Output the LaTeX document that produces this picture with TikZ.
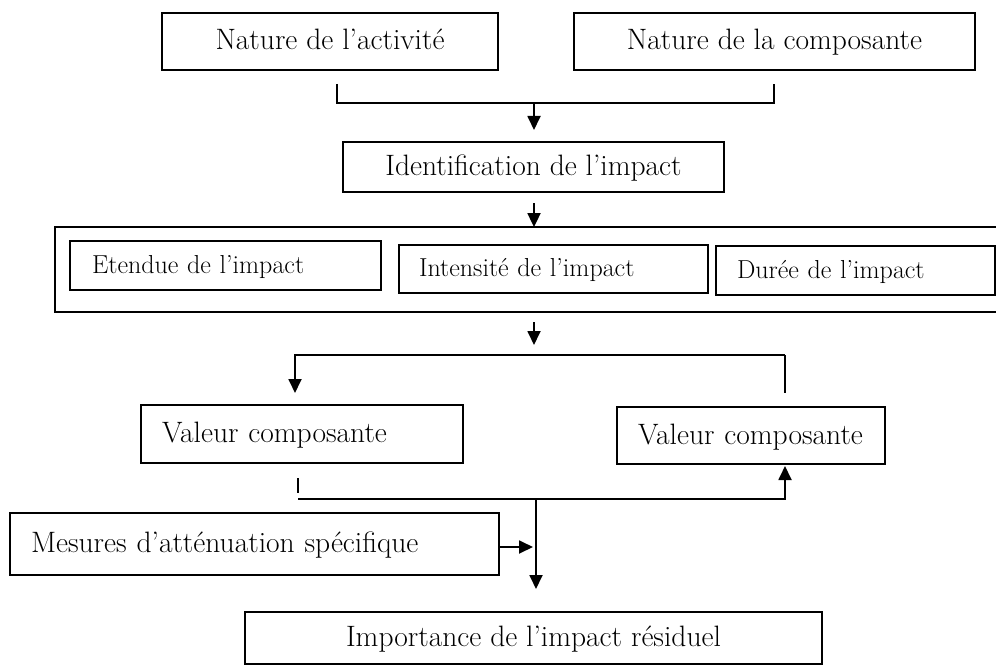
\documentclass[tikz,border=0pt]{standalone}
\usetikzlibrary{arrows.meta}
\begin{document}
\begin{tikzpicture}[x=1pt,y=-1pt,line width=1.8pt,
  box/.style={draw,rectangle,inner sep=0pt,text height=21pt,text depth=4pt,font=\fontsize{29.5}{33}\selectfont},
  lbox/.style={draw,rectangle,inner ysep=0pt,align=left,text height=21pt,text depth=4pt,font=\fontsize{29.5}{33}\selectfont},
  sbox/.style={draw,rectangle,inner ysep=0pt,align=left,text height=18.5pt,text depth=3.5pt,font=\fontsize{26}{30}\selectfont},
  arr/.style={-{Triangle[length=14pt,width=13pt]}}]
\useasboundingbox (0,0) rectangle (996,666);
% top boxes
\node[box,minimum width=336,minimum height=57] (act) at (330,41.5) {Nature de l’activité};
\node[box,minimum width=401,minimum height=57] (comp) at (774.5,41.5) {Nature de la composante};
% bracket
\coordinate (bl) at (337,84);
\coordinate (br) at (774,84);
\coordinate (bm) at (534,103);
\coordinate (t1) at (534,130);
\draw (bl) -- (bl |- bm) -- (br |- bm) -- (br);
\draw[arr] (bm) -- (t1);
% identification
\node[box,minimum width=381,minimum height=50] (ident) at (533.5,167) {Identification de l’impact};
\coordinate (s2) at (534,203);
% big box
\node[minimum width=940,minimum height=83,inner sep=0pt] (big) at (526,269.5) {};
\draw (big.north east) -- (big.north west) -- (big.south west) -- (big.south east);
\draw[arr] (s2) -- (s2 |- big.north);
\node[sbox,text width=267,inner xsep=22pt,minimum height=49] (ete) at (225.5,265.5) {Etendue de l’impact};
\node[sbox,text width=269,inner xsep=20pt,minimum height=48] (int) at (553.5,269) {Intensité de l’impact};
\node[sbox,text width=237,inner xsep=21pt,minimum height=49] (dur) at (855.5,270.5) {Durée de l’impact};
% fork
\coordinate (s3) at (534,322);
\coordinate (t3) at (534,345);
\draw[arr] (s3) -- (t3);
\coordinate (fl) at (295,355);
\coordinate (fr) at (785,355);
\coordinate (fle) at (295,393);
\coordinate (fre) at (785,393);
\draw[arr] (fr) -- (fl) -- (fle);
\draw (fr) -- (fre);
% valeur boxes
\node[lbox,text width=280,inner xsep=21pt,minimum height=58] (v1) at (302,434) {Valeur composante};
\node[lbox,text width=226,inner xsep=21pt,minimum height=57] (v2) at (751,435.5) {Valeur composante};
% bottom junction
\coordinate (tk1) at (298,478);
\coordinate (tk2) at (298,493);
\draw (tk1) -- (tk2);
\coordinate (hl) at (298,499);
\coordinate (hm) at (536,499);
\coordinate (hr) at (785,499);
\coordinate (up) at (785,466);
\draw[arr] (hl) -- (hr) -- (up);
% mesures
\node[lbox,text width=447,inner xsep=21pt,minimum height=62] (mes) at (254.5,544) {Mesures d’atténuation spécifique};
\coordinate (mj) at (533,547);
\draw[arr] (mes.east |- mj) -- (mj);
% importance
\node[box,minimum width=577,minimum height=52] (imp) at (533.5,638) {Importance de l’impact résiduel};
\coordinate (t4) at (536,589);
\draw[arr] (hm) -- (t4);
\end{tikzpicture}
\end{document}
